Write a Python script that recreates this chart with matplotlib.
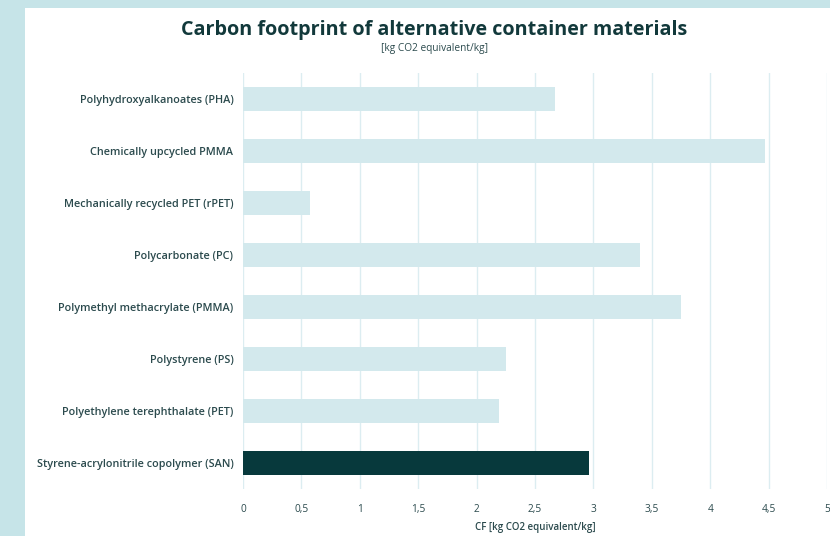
import matplotlib.pyplot as plt
from matplotlib.patches import Rectangle

# Carbon footprint per material, kg CO2 equivalent per kg
materials = [
    "Polyhydroxyalkanoates (PHA)",
    "Chemically upcycled PMMA",
    "Mechanically recycled PET (rPET)",
    "Polycarbonate (PC)",
    "Polymethyl methacrylate (PMMA)",
    "Polystyrene (PS)",
    "Polyethylene terephthalate (PET)",
    "Styrene-acrylonitrile copolymer (SAN)",
]
footprint = [2.67, 4.47, 0.57, 3.40, 3.75, 2.25, 2.19, 2.96]
highlight = "Styrene-acrylonitrile copolymer (SAN)"
x_ticks = [0, 0.5, 1, 1.5, 2, 2.5, 3, 3.5, 4, 4.5, 5]

light = "#d3e9ed"
dark = "#07393c"
text_col = "#2b4a4d"

plt.rcParams["font.family"] = ["Open Sans", "DejaVu Sans"]

fig = plt.figure(figsize=(8.3, 5.36), dpi=100)
fig.patch.set_facecolor("#c6e4e8")
# white card on top of the teal page background
fig.add_artist(Rectangle((25 / 830, 0), 1, 1 - 8 / 536, transform=fig.transFigure,
                         facecolor="white", edgecolor="none", zorder=0))

ax = fig.add_axes([243 / 830, 1 - 489 / 536, 584 / 830, 416 / 536])
ax.set_facecolor("none")

ypos = list(range(len(materials)))
colors = [dark if m == highlight else light for m in materials]
ax.barh(ypos, footprint, height=0.45, color=colors, zorder=2)
ax.set_ylim(len(materials) - 0.5, -0.5)
ax.set_yticks(ypos)
ax.set_yticklabels(materials, fontsize=7.8, fontweight="semibold", color=text_col)

ax.set_xlim(0, 5)
ax.set_xticks(x_ticks)
ax.set_xticklabels([f"{t:g}".replace(".", ",") for t in x_ticks], fontsize=7.3, color=text_col)
ax.grid(axis="x", color="#dcedf1", linewidth=1, zorder=1)
ax.tick_params(axis="both", length=0)
ax.tick_params(axis="x", pad=11)
ax.tick_params(axis="y", pad=7)
for s in ax.spines.values():
    s.set_visible(False)

ax.set_xlabel("CF [kg CO2 equivalent/kg]", fontsize=7, fontweight="semibold",
              color=text_col, labelpad=5)

fig.text(434 / 830, 1 - 30 / 536, "Carbon footprint of alternative container materials",
         ha="center", va="center", fontsize=14.2, fontweight="bold", color="#12393b")
fig.text(434 / 830, 1 - 48 / 536, "[kg CO2 equivalent/kg]",
         ha="center", va="center", fontsize=7.3, color=text_col)

fig.savefig("out.png", dpi=100)
